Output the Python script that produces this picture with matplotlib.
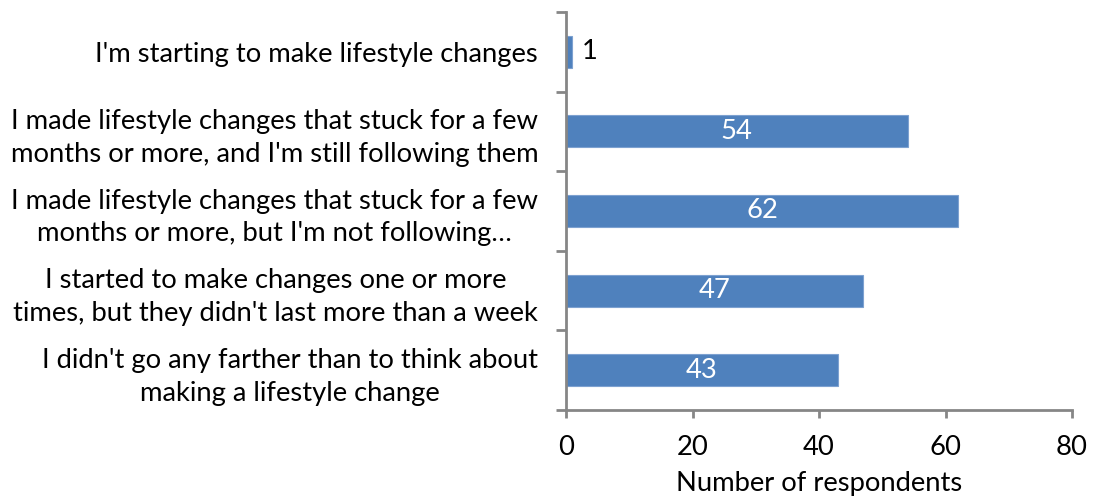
import matplotlib
matplotlib.use("Agg")
import matplotlib.pyplot as plt
import numpy as np

categories = [
    "I didn't go any farther than to think about\nmaking a lifestyle change",
    "I started to make changes one or more\ntimes, but they didn't last more than a week",
    "I made lifestyle changes that stuck for a few\nmonths or more, but I'm not following\u2026",
    "I made lifestyle changes that stuck for a few\nmonths or more, and I'm still following them",
    "I'm starting to make lifestyle changes",
]
values = [43, 47, 62, 54, 1]
xticks = [0, 20, 40, 60, 80]
xlabel = "Number of respondents"

plt.rcParams['font.family'] = ['Lato', 'DejaVu Sans']
FS = 19.7
bar_color = "#4F81BD"
axis_color = "#868686"

fig = plt.figure(figsize=(10.98, 4.96), dpi=100)
ax = fig.add_axes([566/1098, 1-410/496, (1072-566)/1098, (410-12)/496])

y = np.arange(len(categories))
ax.barh(y, values, height=0.4, color=bar_color, edgecolor="#7DA1D0", linewidth=0.8)
ax.set_xlim(0, 80)
ax.set_ylim(-0.5, len(categories)-0.5)
ax.set_xticks(xticks)
ax.set_xticklabels([str(t) for t in xticks], fontsize=FS)
ax.set_yticks(y)
ax.set_yticklabels(categories, fontsize=FS, ha='right', multialignment='center',
                   linespacing=1.4)
ax.tick_params(axis='y', which='major', length=0, pad=20)
ax.set_yticks(np.arange(len(categories)+1)-0.5, minor=True)
ax.tick_params(axis='y', which='minor', length=7, width=2, color=axis_color, direction='out')
ax.tick_params(axis='x', which='major', length=6, width=2, color=axis_color, direction='out', pad=12)
ax.set_xlabel(xlabel, fontsize=FS, labelpad=8)

for s in ['top', 'right']:
    ax.spines[s].set_visible(False)
for s in ['left', 'bottom']:
    ax.spines[s].set_color(axis_color)
    ax.spines[s].set_linewidth(2)

for yi, v in zip(y, values):
    if v < 5:
        ax.annotate(str(v), (v, yi), xytext=(7, 0), textcoords='offset points',
                    ha='left', va='center', fontsize=FS, color='black')
    else:
        ax.text(v/2, yi, str(v), ha='center', va='center', fontsize=FS, color='white')

fig.savefig("out.png", dpi=100)
